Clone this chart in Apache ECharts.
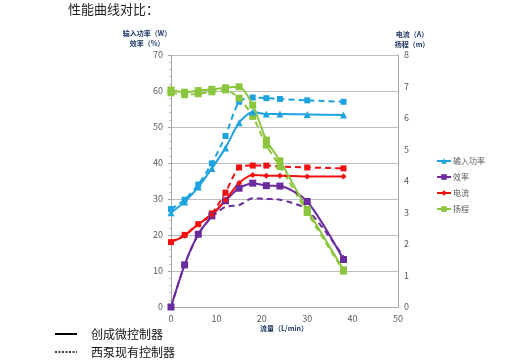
<!DOCTYPE html>
<html><head><meta charset="utf-8">
<script src="https://cdn.jsdelivr.net/npm/echarts@6/dist/echarts.min.js"></script>
<style>html,body{margin:0;padding:0;background:#fff}#c{width:520px;height:360px}</style>
</head><body><div id="c"></div>
<script>
// Flow (L/min)
const flow = [0, 3, 6, 9, 12, 15, 18, 21, 24, 30, 38];
// 输入功率 (W)
const powerNew = [26.2, 29.2, 33.3, 38.5, 44.2, 51.2, 54.2, 53.6, 53.6, 53.5, 53.3];
const powerOld = [27.2, 29.8, 34.0, 39.9, 47.5, 57.0, 58.2, 58.0, 57.8, 57.4, 57.0];
// 效率 (%)
const effNew = [0, 11.7, 20.2, 25.3, 29.5, 33.0, 34.4, 33.7, 33.6, 29.3, 13.2];
const effOld = [0, 11.7, 20.2, 25.0, 27.8, 28.3, 30.2, 30.0, 29.8, 27.0, 14.0];
// 电流 (A)
const currNew = [2.07, 2.26, 2.63, 2.92, 3.40, 3.94, 4.19, 4.17, 4.17, 4.14, 4.14];
const currOld = [2.06, 2.29, 2.63, 2.97, 3.63, 4.43, 4.49, 4.49, 4.46, 4.43, 4.40];
// 扬程 (m)
const headNew = [6.89, 6.82, 6.87, 6.91, 6.96, 6.99, 6.41, 5.30, 4.64, 3.10, 1.18];
const headOld = [6.80, 6.74, 6.77, 6.83, 6.89, 6.63, 6.05, 5.14, 4.46, 3.00, 1.14];
const legendNames = ['输入功率', '效率', '电流', '扬程'];
const leftTicks = [0, 70, 10];
const rightTicks = [0, 8, 1];
const xTicks = [0, 50, 10];

const pair = arr => flow.map((x, i) => [x, arr[i]]);
const C = {cyan: '#1FA3DF', purple: '#6B2D9E', red: '#F01010', green: '#8CC63F'};
const font = '"Noto Sans CJK SC", "Noto Sans", sans-serif';

function mk(name, data, color, yIdx, dashed, symbol, size) {
  return {
    name: name, type: 'line', data: pair(data), yAxisIndex: yIdx,
    smooth: 0.25, symbol: symbol, symbolSize: size,
    lineStyle: {color: color, width: 2, type: dashed ? [6, 4] : 'solid'},
    itemStyle: {color: color}, z: dashed ? 2 : 3
  };
}

const chart = echarts.init(document.getElementById('c'), null, {renderer: 'canvas'});
chart.setOption({
  animation: false,
  backgroundColor: '#fff',
  grid: {left: 171, right: 122, top: 55, bottom: 53},
  xAxis: {
    type: 'value', min: xTicks[0], max: xTicks[1], interval: xTicks[2],
    axisLine: {lineStyle: {color: '#A6A6A6'}},
    axisTick: {show: false},
    splitLine: {show: false},
    axisLabel: {color: '#595959', fontSize: 9, fontFamily: font, margin: 7}
  },
  yAxis: [{
    type: 'value', min: leftTicks[0], max: leftTicks[1], interval: leftTicks[2],
    axisLine: {show: true, lineStyle: {color: '#A6A6A6'}},
    axisTick: {show: true, length: 3, lineStyle: {color: '#A6A6A6'}},
    minorTick: {show: true, splitNumber: 5, length: 2, lineStyle: {color: '#BFBFBF'}},
    splitLine: {lineStyle: {color: '#BFBFBF', width: 1}},
    axisLabel: {color: '#595959', fontSize: 9, fontFamily: font, margin: 8}
  }, {
    type: 'value', min: rightTicks[0], max: rightTicks[1], interval: rightTicks[2],
    position: 'right',
    axisLine: {show: true, lineStyle: {color: '#A6A6A6'}},
    axisTick: {show: false},
    splitLine: {show: false},
    axisLabel: {color: '#595959', fontSize: 9, fontFamily: font, margin: 6}
  }],
  legend: {
    orient: 'vertical', left: 431, top: 152,
    data: legendNames, itemWidth: 14, itemHeight: 7, itemGap: 8,
    textStyle: {color: '#595959', fontSize: 8, fontFamily: font, padding: [0, 0, 0, -3]}
  },
  series: [
    mk('输入功率', powerNew, C.cyan, 0, false, 'triangle', 7),
    mk('效率', effNew, C.purple, 0, false, 'rect', 7),
    mk('电流', currNew, C.red, 1, false, 'diamond', 6),
    mk('扬程', headNew, C.green, 1, false, 'rect', 7),
    mk('输入功率', powerOld, C.cyan, 0, true, 'rect', 6),
    mk('效率', effOld, C.purple, 0, true, 'none', 6),
    mk('电流', currOld, C.red, 1, true, 'rect', 6),
    mk('扬程', headOld, C.green, 1, true, 'rect', 7)
  ],
  graphic: [
    {type: 'text', left: 68, top: 3, style: {text: '性能曲线对比：', fontSize: 13, fill: '#222', fontFamily: font}},
    {type: 'text', x: 147, y: 28, style: {text: '输入功率（W）\n效率（%）', fontSize: 7, fontWeight: 'bold', fill: '#1F3864', align: 'center', lineHeight: 10, fontFamily: font}},
    {type: 'text', x: 412, y: 29, style: {text: '电流（A）\n扬程（m）', fontSize: 7, fontWeight: 'bold', fill: '#1F3864', align: 'center', lineHeight: 10, fontFamily: font}},
    {type: 'text', x: 284, y: 325, style: {text: '流量（L/min）', fontSize: 7, fontWeight: 'bold', fill: '#1F3864', align: 'center', fontFamily: font}},
    {type: 'line', shape: {x1: 55, y1: 334, x2: 77, y2: 334}, style: {stroke: '#000', lineWidth: 2}},
    {type: 'text', x: 91, y: 334, style: {text: '创成微控制器', fontSize: 12, fill: '#111', verticalAlign: 'middle', fontFamily: font}},
    {type: 'line', shape: {x1: 55, y1: 352, x2: 77, y2: 352}, style: {stroke: '#000', lineWidth: 1.5, lineDash: [2, 1.5]}},
    {type: 'text', x: 91, y: 352, style: {text: '西泵现有控制器', fontSize: 12, fill: '#111', verticalAlign: 'middle', fontFamily: font}}
  ]
});
</script></body></html>
